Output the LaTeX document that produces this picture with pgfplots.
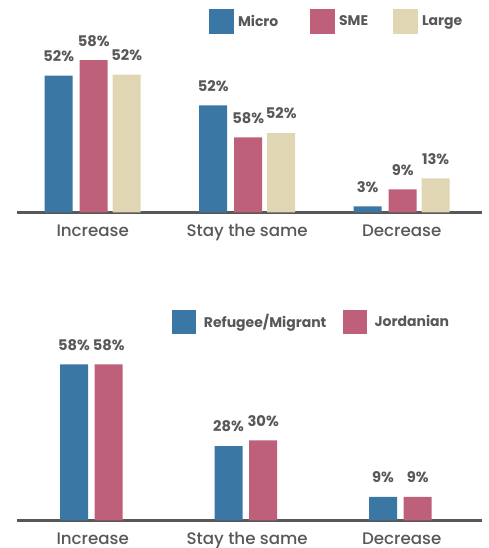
\documentclass[border=0pt]{standalone}
\usepackage{pgfplots}
\pgfplotsset{compat=1.18}
\usepackage{pgfplotstable}
\usepackage{fontspec}
\setmainfont{Poppins}
\newfontfamily\medfont{Poppins Medium}
\definecolor{cblue}{HTML}{3A77A5}
\definecolor{cpink}{HTML}{BE6079}
\definecolor{cbeige}{HTML}{E0D6B4}
\definecolor{cgray}{HTML}{585858}

\pgfplotstableread{
x micro microlab sme smelab large largelab
0 51.8 52 57.6 58 52.1 52
1 40.5 52 28.4 58 30.0 52
2 2.2 3 8.7 9 12.8 13
}\toptable

\pgfplotstableread{
x ref reflab jor jorlab
0 58 58 58 58
1 27.6 28 29.7 30
2 8.7 9 8.7 9
}\bottable

\pgfplotsset{
  mybase/.style={
    scale only axis,
    width=348.75pt,
    xmin=-0.49, xmax=2.52,
    ymin=0, ymax=70,
    axis y line=none,
    axis x line*=bottom,
    x axis line style={line width=2pt, color=cgray, -},
    xtick={0,1,2},
    xticklabels={Increase,Stay the same,Decrease},
    major tick length=0pt,
    xticklabel style={font=\medfont\fontsize{12.5}{14}\selectfont, text=cgray, anchor=base, yshift=-18.5pt},
    clip=false,
    ybar,
    bar width=21pt,
    point meta=explicit symbolic,
    nodes near coords={\pgfplotspointmeta\%},
    every node near coord/.append style={font=\bfseries\fontsize{11}{13}\selectfont, text=cgray, anchor=center, yshift=14.6pt},
    legend columns=-1,
    legend style={draw=none, fill=none, inner sep=0pt, outer sep=0pt, anchor=west,
      font=\bfseries\fontsize{10.5}{12}\selectfont, text=cgray,
      nodes={inner sep=0pt}},
  },
}

\begin{document}
\begin{tikzpicture}
\path[use as bounding box] (0,0) rectangle (366pt,-411pt);

\begin{axis}[mybase,
  at={(12.75pt,-159.2pt)}, anchor=south west,
  height=138.6pt,
  legend style={at={(0.413,1.031)},
    /tikz/every odd column/.append style={column sep=3pt}},
  legend image code/.code={\fill[#1] (0pt,-9.4pt) rectangle (18.75pt,9.4pt);},
]
\addplot[fill=cblue, draw=none, bar shift=-25.5pt] table[x=x, y=micro, meta=microlab] {\toptable};
\addlegendentry{\makebox[54pt][l]{Micro}}
\addplot[fill=cpink, draw=none, bar shift=0.75pt] table[x=x, y=sme, meta=smelab] {\toptable};
\addlegendentry{\makebox[40.5pt][l]{SME}}
\addplot[fill=cbeige, draw=none, bar shift=25.5pt] table[x=x, y=large, meta=largelab] {\toptable};
\addlegendentry{Large}
\end{axis}

\begin{axis}[mybase,
  at={(12.75pt,-390.2pt)}, anchor=south west,
  height=141.2pt,
  legend style={at={(0.3333,1.0515)},
    /tikz/every odd column/.append style={column sep=6pt}},
  legend image code/.code={\fill[#1] (0pt,-9pt) rectangle (18pt,9pt);},
]
\addplot[fill=cblue, draw=none, bar shift=-14pt] table[x=x, y=ref, meta=reflab] {\bottable};
\addlegendentry{\makebox[104pt][l]{Refugee/Migrant}}
\addplot[fill=cpink, draw=none, bar shift=12pt] table[x=x, y=jor, meta=jorlab] {\bottable};
\addlegendentry{Jordanian}
\end{axis}
\end{tikzpicture}
\end{document}
